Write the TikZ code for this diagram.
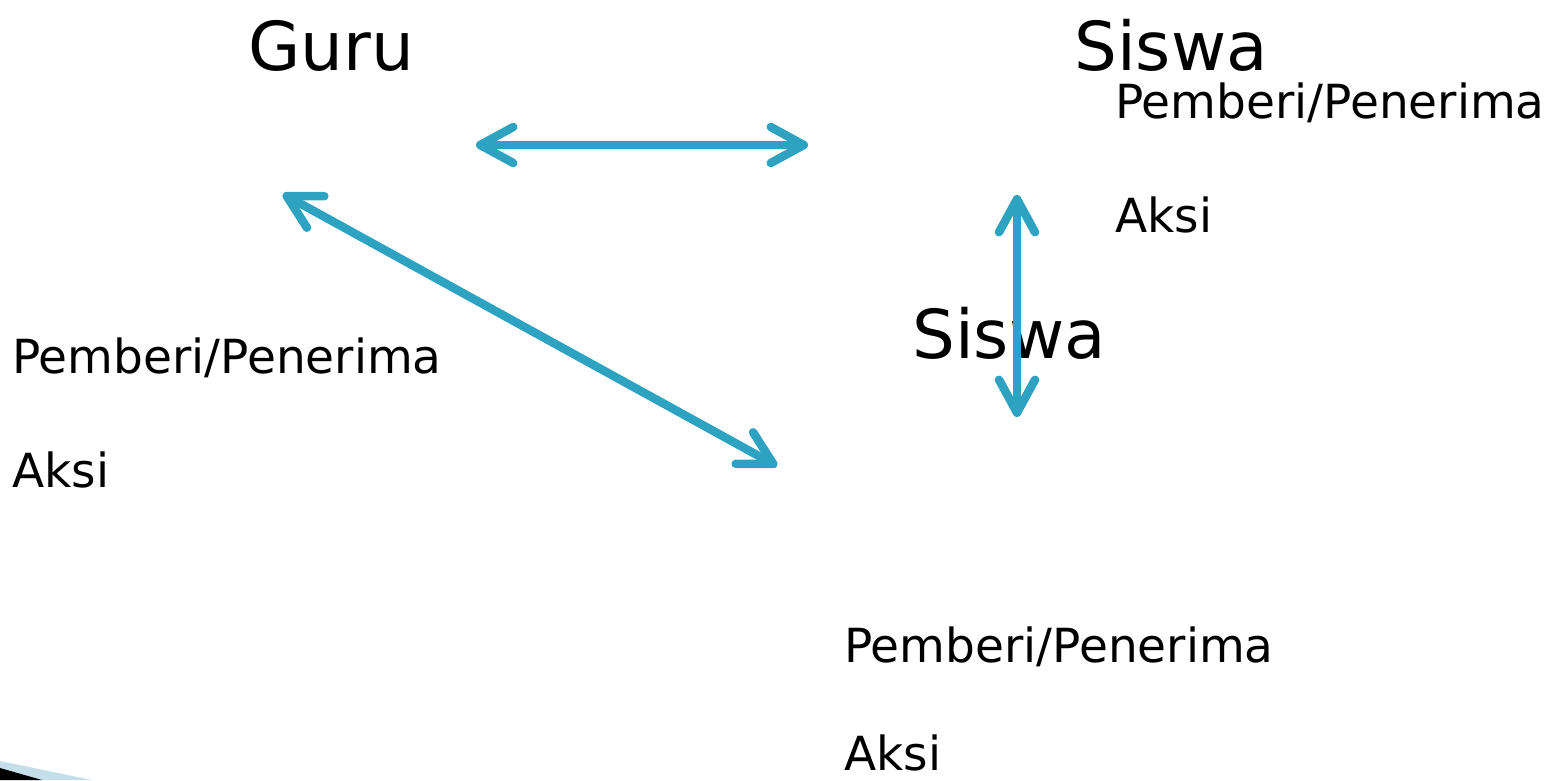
\documentclass[tikz,border=0pt]{standalone}
\usepackage{fontspec}
\setmainfont{DejaVu Sans}
\usetikzlibrary{arrows.meta}
\definecolor{linkblue}{RGB}{46,163,193}
\definecolor{paleblue}{RGB}{196,222,234}
\tikzset{
  role/.style={inner sep=0pt, anchor=base west, font=\fontsize{67.5}{72}\selectfont},
  note/.style={inner sep=0pt, anchor=base west, font=\fontsize{47}{50}\selectfont},
  link/.style={draw=linkblue, line width=8.5pt, line cap=round,
    {Straight Barb[length=33pt, width=36pt, round]}-{Straight Barb[length=33pt, width=36pt, round]}}
}
\begin{document}
\begin{tikzpicture}[x=1pt, y=-1pt]
  \useasboundingbox (0,0) rectangle (1559,780);

  % corner of a picture cut off by the page edge
  \fill[paleblue] (0,761) -- (92,780) -- (0,780) -- cycle;
  \fill[black] (0,768) -- (42,780) -- (0,780) -- cycle;

  % participants
  \node[role] (guru) at (248,70) {Guru};
  \node[role] (siswaA) at (1074,70) {Siswa};
  \node[role] (siswaB) at (912,358) {Siswa};

  % role notes
  \node[note] (noteA1) at (1115,118) {Pemberi/Penerima};
  \node[note] (noteA2) at (1115,232) {Aksi};
  \node[note] (noteG1) at (12,373) {Pemberi/Penerima};
  \node[note] (noteG2) at (12,487) {Aksi};
  \node[note] (noteB1) at (844,662) {Pemberi/Penerima};
  \node[note] (noteB2) at (844,770) {Aksi};

  % arrow end points
  \coordinate (gs1) at (476,145);
  \coordinate (gs2) at (808,145);
  \coordinate (gd1) at (283,194);
  \coordinate (gd2) at (777,466);
  \coordinate (ss1) at (1017,195);
  \coordinate (ss2) at (1017,417);

  % interactions
  \draw[link] (gs1) -- (gs2);
  \draw[link] (gd1) -- (gd2);
  \draw[link] (ss1) -- (ss2);
\end{tikzpicture}
\end{document}
